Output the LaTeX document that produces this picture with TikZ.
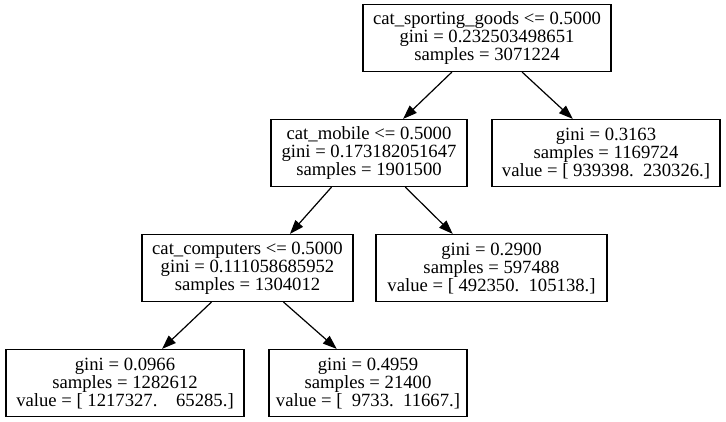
\documentclass[tikz,border=0pt]{standalone}
\usepackage{fontspec}
\setmainfont{Liberation Serif}
\usetikzlibrary{arrows.meta,calc}
\newcommand\lnstrut{\rule[-2pt]{0pt}{15pt}}
\tikzset{
  treebox/.style={draw=black, line width=1.2pt, rectangle, minimum height=67pt,
    inner sep=0pt, align=center, text=black,
    font=\fontsize{18.67pt}{18pt}\selectfont\frenchspacing},
  treeedge/.style={draw=black, line width=1.2pt,
    -{Triangle[length=14pt,width=10pt]}}
}
\begin{document}
\begin{tikzpicture}
\useasboundingbox (0pt,0pt) rectangle (726pt,-421pt);
\fill[white] (0pt,0pt) rectangle (726pt,-421pt);

\node[treebox, minimum width=248pt] (root) at (487pt,-38pt)
  {\lnstrut cat\_sporting\_goods <= 0.5000\\\lnstrut gini = 0.232503498651\\\lnstrut samples = 3071224};
\node[treebox, minimum width=196pt] (mobile) at (369pt,-153pt)
  {\lnstrut cat\_mobile <= 0.5000\\\lnstrut gini = 0.173182051647\\\lnstrut samples = 1901500};
\node[treebox, minimum width=228pt] (leafa) at (606pt,-153pt)
  {\lnstrut gini = 0.3163\\\lnstrut samples = 1169724\\\lnstrut value = [ 939398.\ \ 230326.]};
\node[treebox, minimum width=211pt] (comp) at (247.5pt,-268pt)
  {\lnstrut cat\_computers <= 0.5000\\\lnstrut gini = 0.111058685952\\\lnstrut samples = 1304012};
\node[treebox, minimum width=231pt] (leafb) at (491.5pt,-268pt)
  {\lnstrut gini = 0.2900\\\lnstrut samples = 597488\\\lnstrut value = [ 492350.\ \ 105138.]};
\node[treebox, minimum width=238pt] (leafc) at (125pt,-383pt)
  {\lnstrut gini = 0.0966\\\lnstrut samples = 1282612\\\lnstrut value = [ 1217327.\ \ \ \ 65285.]};
\node[treebox, minimum width=198pt] (leafd) at (368pt,-383pt)
  {\lnstrut gini = 0.4959\\\lnstrut samples = 21400\\\lnstrut value = [\ \ 9733.\ \ 11667.]};

\draw[treeedge] ($(root.south west)!.359!(root.south east)$) -- ($(mobile.north west)!.673!(mobile.north east)$);
\draw[treeedge] ($(root.south west)!.641!(root.south east)$) -- ($(leafa.north west)!.355!(leafa.north east)$);
\draw[treeedge] ($(mobile.south west)!.31!(mobile.south east)$) -- ($(comp.north west)!.70!(comp.north east)$);
\draw[treeedge] ($(mobile.south west)!.684!(mobile.south east)$) -- ($(leafb.north west)!.333!(leafb.north east)$);
\draw[treeedge] ($(comp.south west)!.33!(comp.south east)$) -- ($(leafc.north west)!.655!(leafc.north east)$);
\draw[treeedge] ($(comp.south west)!.67!(comp.south east)$) -- ($(leafd.north west)!.343!(leafd.north east)$);
\end{tikzpicture}
\end{document}
